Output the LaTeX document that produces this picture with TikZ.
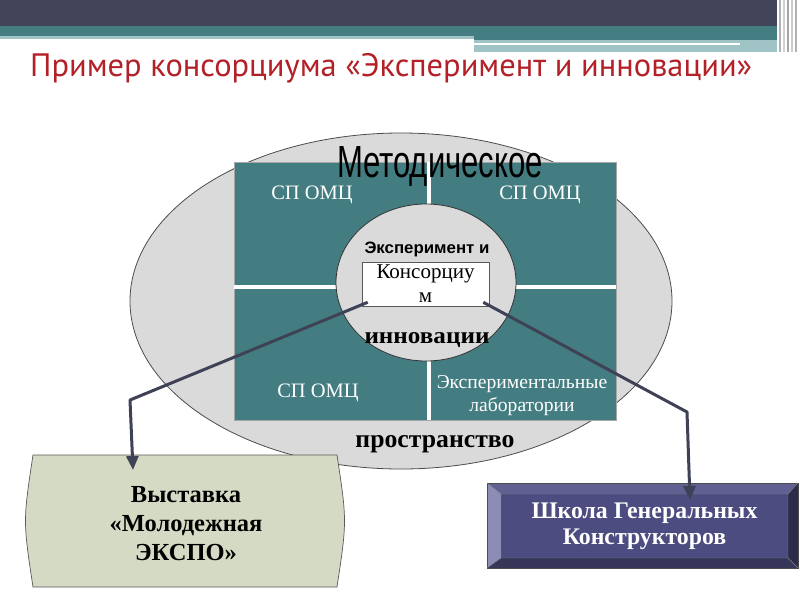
\documentclass[tikz,border=0pt]{standalone}
\usepackage{fontspec}
\setmainfont{Liberation Serif}
\setsansfont{Liberation Sans}
\newfontfamily\titlefont{PT Sans}
\usetikzlibrary{arrows.meta,shapes.geometric}
\definecolor{bandDark}{RGB}{66,68,90}
\definecolor{bandTeal}{RGB}{68,125,130}
\definecolor{bandLight}{RGB}{160,196,198}
\definecolor{titleRed}{RGB}{180,32,40}
\definecolor{ellGray}{RGB}{218,218,218}
\definecolor{tealBox}{RGB}{67,125,130}
\definecolor{connC}{RGB}{63,66,86}
\definecolor{sage}{RGB}{212,218,196}
\definecolor{slateFace}{RGB}{76,76,128}
\definecolor{slateTop}{RGB}{96,96,146}
\definecolor{slateLeft}{RGB}{140,140,182}
\definecolor{slateRight}{RGB}{44,44,74}
\definecolor{slateBottom}{RGB}{54,54,88}
\tikzset{
  conn/.style={draw=connC, line width=3pt, line join=round},
  conntip/.style={-{Triangle[length=14pt,width=12pt]}},
  whitetxt/.style={text=white, inner sep=0pt, font=\fontsize{20.5}{22}\selectfont},
  blacklbl/.style={inner sep=0pt, anchor=base},
  boxtxt/.style={align=center, inner sep=0pt, font=\fontsize{24.5}{29}\selectfont\bfseries},
}
\begin{document}
\begin{tikzpicture}[x=1pt,y=-1pt]
\useasboundingbox (0,0) rectangle (800,600);
\fill[white] (0,0) rectangle (800,600);
% top banner
\fill[bandDark] (0,0) rectangle (777,26);
\fill[bandTeal] (0,26) rectangle (777,36);
\fill[bandLight] (0,36) rectangle (474,39);
\fill[bandTeal] (474,36) rectangle (777,40);
\fill[bandLight] (474,40) rectangle (777,52);
\fill[white] (0,43) rectangle (740,45);
\foreach \xx/\cc in {779/gray!60, 783/gray!35, 787/gray!70, 791/gray!40, 795/gray!60}
  \fill[\cc] (\xx,0) rectangle (\xx+1.5,52);
% title
\node[anchor=base west, inner sep=0pt] (title) at (30,76)
  {\resizebox{722pt}{!}{\titlefont\fontsize{30}{30}\selectfont\color{titleRed}Пример консорциума «Эксперимент и инновации»}};
% big ellipse
\node[ellipse, draw=gray!60!black, line width=0.8pt, fill=ellGray, minimum width=542pt, minimum height=336pt, inner sep=0pt] (space) at (401,301) {};
% teal block
\fill[tealBox] (234,162) rectangle (616,420);
\draw[gray!70, line width=0.6pt] (234,162) rectangle (616,420);
\draw[white, line width=3.5pt] (429,162) -- (429,420);
\draw[white, line width=3.5pt] (234,287) -- (616,287);
% centre circle
\node[ellipse, draw=black!80, line width=0.8pt, fill=ellGray, minimum width=180pt, minimum height=157pt, inner sep=0pt] (circ) at (426,282.5) {};
% quadrant texts
\node[whitetxt, anchor=base] (q1) at (312,199.5) {СП ОМЦ};
\node[whitetxt, anchor=base] (q2) at (540,199.5) {СП ОМЦ};
\node[whitetxt, anchor=base] (q3) at (318,397) {СП ОМЦ};
\node[whitetxt, align=center, font=\fontsize{19.6}{23}\selectfont] (q4) at (522,396) {Экспериментальные\\лаборатории};
% labels
\node[blacklbl] (metod) at (440,177) {\resizebox{206pt}{31pt}{\sffamily Методическое}};
\node[blacklbl] (exper) at (427,253) {\resizebox{125pt}{11.5pt}{\sffamily\bfseries Эксперимент и}};
\node[blacklbl] (innov) at (427,343) {\resizebox{125pt}{11pt}{\bfseries инновации}};
\node[blacklbl] (prostr) at (435,447) {\resizebox{159pt}{12pt}{\bfseries пространство}};
% consortium box
\node[draw=gray!70!black, line width=0.6pt, fill=white, minimum width=127pt, minimum height=44pt, inner sep=0pt, align=center, font=\fontsize{21}{24}\selectfont] (kons) at (425.5,284) {Консорциу\\м};
% left box
\draw[draw=gray!70!black, line width=0.7pt, fill=sage] (33,455) -- (337,455) .. controls (347,521) .. (337,587) -- (33,587) .. controls (23,521) .. (33,455) -- cycle;
\node[boxtxt] (expo) at (186,524) {Выставка\\«Молодежная\\ЭКСПО»};
% right bevel box
\fill[slateTop] (487,483) -- (798,483) -- (788,494) -- (501,494) -- cycle;
\fill[slateLeft] (487,483) -- (501,494) -- (501,558) -- (487,568) -- cycle;
\fill[slateRight] (798,483) -- (798,568) -- (788,558) -- (788,494) -- cycle;
\fill[slateBottom] (487,568) -- (501,558) -- (788,558) -- (798,568) -- cycle;
\fill[slateFace] (501,494) rectangle (788,558);
\draw[black!70, line width=0.5pt] (487,483) rectangle (798,568);
\draw[black!50, line width=0.4pt] (501,494) rectangle (788,558)
  (487,483) -- (501,494) (798,483) -- (788,494) (487,568) -- (501,558) (798,568) -- (788,558);
\node[boxtxt, text=white, font=\fontsize{23.8}{26}\selectfont\bfseries] (school) at (644.5,526) {Школа Генеральных\\Конструкторов};
% connectors
\coordinate (bendL) at (130,400);
\coordinate (tipL) at (133,470);
\coordinate (bendR) at (687,412);
\coordinate (tipR) at (690,500);
\draw[conn, conntip] ([shift={(6,-4)}]kons.south west) -- (bendL) -- (tipL);
\draw[conn, conntip] ([shift={(-6,-4)}]kons.south east) -- (bendR) -- (tipR);
\end{tikzpicture}
\end{document}
